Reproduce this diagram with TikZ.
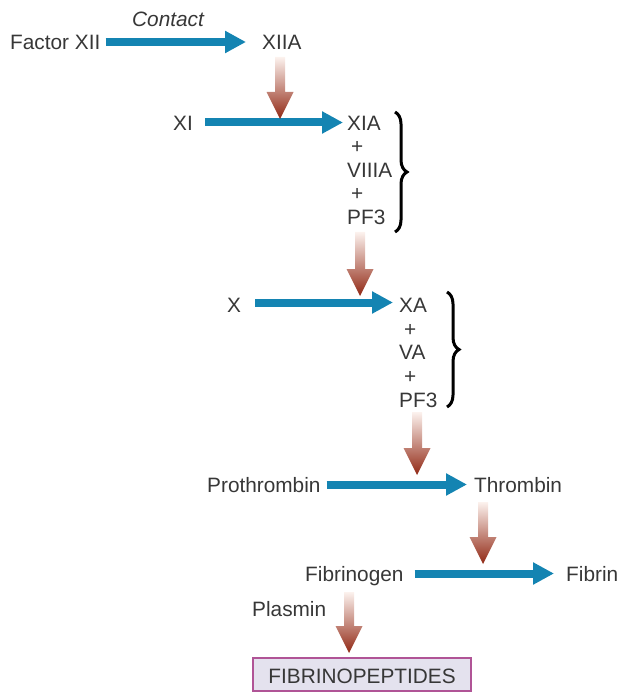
\documentclass[tikz,border=0pt]{standalone}
\usepackage{fontspec}
\setmainfont{Liberation Sans}
\usetikzlibrary{arrows.meta,decorations.pathreplacing,calc}
\definecolor{txt}{RGB}{55,55,55}
\definecolor{flowblue}{RGB}{20,132,178}
\definecolor{redtop}{RGB}{252,242,238}
\definecolor{redmid}{RGB}{192,98,78}
\definecolor{redbot}{RGB}{145,40,20}
\definecolor{boxborder}{RGB}{176,84,150}
\definecolor{boxfill}{RGB}{228,226,238}
\newcommand\redarr[3]{%
  \shade[top color=redtop, middle color=redmid, bottom color=redbot]
    (#1-5,#2) -- (#1+5,#2) -- (#1+5,#3-27) -- (#1+13.5,#3-27) -- (#1,#3)
    -- (#1-13.5,#3-27) -- (#1-5,#3-27) -- cycle;}
\begin{document}
\begin{tikzpicture}[x=1pt,y=-1pt,
  lbl/.style={inner sep=0pt, anchor=base west, text=txt, font=\fontsize{20.8}{24}\selectfont},
  flow/.style={draw=flowblue, line width=8pt, -{Triangle[length=21pt,width=21pt]}},
  bracebig/.style={decorate, decoration={brace, amplitude=12pt}, line width=3pt, draw=black}]
\useasboundingbox (0,0) rectangle (617,692);
% nodes
\node[lbl] (f12) at (10,49.5) {Factor XII};
\node[lbl, font=\fontsize{20.8}{24}\selectfont\itshape] (contact) at (132,27) {Contact};
\node[lbl] (x12a) at (262,49.5) {XIIA};
\node[lbl] (x11) at (173,130.5) {XI};
\node[lbl] (x11a) at (347,130.5) {XIA};
\node[lbl] (p1) at (351,154) {+};
\node[lbl] (v8a) at (347,178) {VIIIA};
\node[lbl] (p2) at (351,201) {+};
\node[lbl] (pf3a) at (347,224.5) {PF3};
\node[lbl] (x10) at (227,312.5) {X};
\node[lbl] (x10a) at (399,312.5) {XA};
\node[lbl] (p3) at (404,336) {+};
\node[lbl] (v5a) at (399,359.5) {VA};
\node[lbl] (p4) at (404,383) {+};
\node[lbl] (pf3b) at (399,407) {PF3};
\node[lbl] (proth) at (207,492.5) {Prothrombin};
\node[lbl] (thromb) at (474,492.5) {Thrombin};
\node[lbl] (fibgen) at (305,581) {Fibrinogen};
\node[lbl] (fibrin) at (566,581) {Fibrin};
\node[lbl] (plasmin) at (252,616) {Plasmin};
\node[lbl, anchor=base, draw=boxborder, line width=2pt, fill=boxfill,
  minimum width=218pt, text height=17pt, text depth=0pt, inner ysep=8pt] (fpep) at (362,683) {FIBRINOPEPTIDES};
% blue arrows
\draw[flow] ([xshift=5pt,yshift=7.5pt]f12.base east) -- ([xshift=-16pt,yshift=7.5pt]x12a.base west);
\draw[flow] ([xshift=12pt,yshift=8pt]x11.base east) -- ([xshift=-4pt,yshift=8pt]x11a.base west);
\draw[flow] ([xshift=14pt,yshift=10pt]x10.base east) -- ([xshift=-6pt,yshift=10pt]x10a.base west);
\draw[flow] ([xshift=6pt,yshift=8pt]proth.base east) -- ([xshift=-7pt,yshift=8pt]thromb.base west);
\draw[flow] ([xshift=11pt,yshift=7.5pt]fibgen.base east) -- ([xshift=-12pt,yshift=7.5pt]fibrin.base west);
% red arrows
\redarr{280}{57}{119}
\redarr{360}{232}{296}
\redarr{417}{412}{475}
\redarr{483}{502}{564}
\redarr{349}{592}{653}
% braces
\draw[bracebig] (395,112) -- (395,232);
\draw[bracebig] (447,292) -- (447,407);
\end{tikzpicture}
\end{document}
